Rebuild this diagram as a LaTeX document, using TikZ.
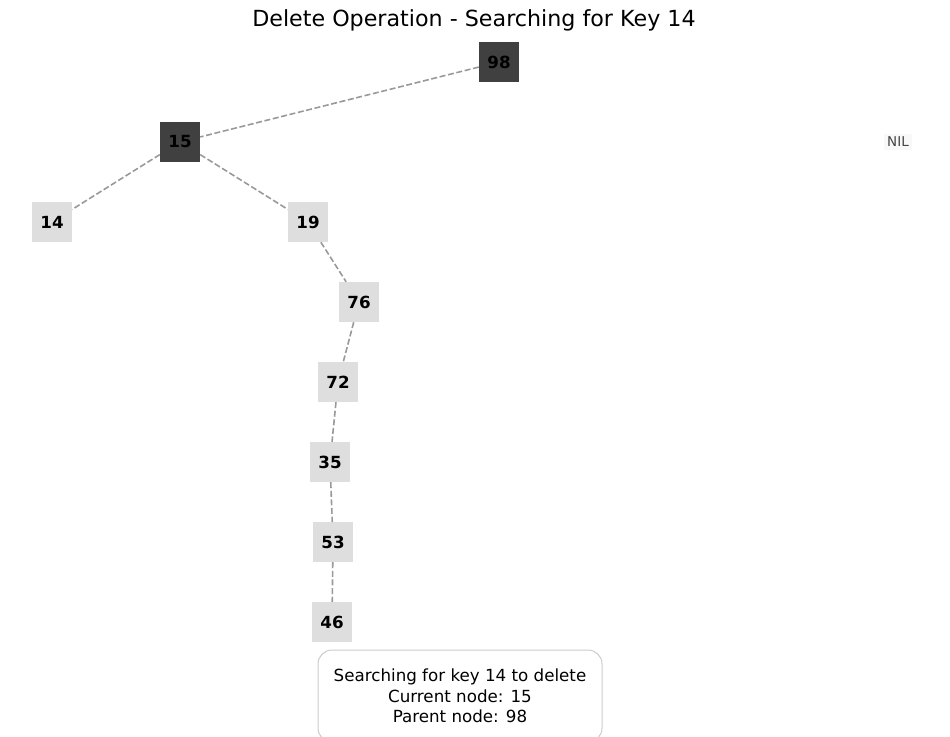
\documentclass[tikz,border=0pt]{standalone}
\usepackage{fontspec}
\setmainfont{DejaVu Sans}
\usetikzlibrary{positioning}
\definecolor{visitgray}{RGB}{64,64,64}
\definecolor{keygray}{RGB}{222,222,222}
\definecolor{edgegray}{RGB}{153,153,153}
\definecolor{nilfill}{RGB}{248,248,248}
\definecolor{niltext}{RGB}{68,68,68}
\definecolor{boxborder}{RGB}{204,204,204}

\begin{document}
\begin{tikzpicture}[x=1pt, y=-1pt,
  keynode/.style={fill=keygray, minimum size=40pt, inner sep=0pt, font=\fontsize{16.7}{20}\selectfont\bfseries},
  visited/.style={keynode, fill=visitgray},
  link/.style={draw=edgegray, line width=1.6pt, dash pattern=on 6pt off 2.6pt}]
  \useasboundingbox (0,0) rectangle (950,736);
  \clip (0,0) rectangle (950,736);
  \node[font=\fontsize{22.2}{26}\selectfont] (title) at (474,20) {Delete Operation - Searching for Key 14};
  % tree nodes
  \foreach \k/\x/\y/\s in {%
    98/499/62/visited,%
    15/180/142/visited,%
    14/52/222/keynode,%
    19/308/222/keynode,%
    76/359/302/keynode,%
    72/338/382/keynode,%
    35/330/462/keynode,%
    53/333/542/keynode,%
    46/332/622/keynode%
  }{
    \node[\s] (K\k) at (\x,\y) {\k};
  }
  \node[fill=nilfill, text=niltext, inner sep=3pt, font=\fontsize{13.5}{16}\selectfont] (nil) at (898,142) {NIL};
  % links
  \foreach \a/\b in {98/15, 15/14, 15/19, 19/76, 76/72, 72/35, 35/53, 53/46}{
    \draw[link] (K\a) -- (K\b);
  }
  \node[draw=boxborder, line width=1pt, fill=white, rounded corners=14pt, minimum width=284pt, minimum height=92pt, align=center, font=\fontsize{16.7}{20.5}\selectfont] (info) at (460,696) {Searching for key 14 to delete\\Current node: 15\\Parent node: 98};
\end{tikzpicture}
\end{document}
